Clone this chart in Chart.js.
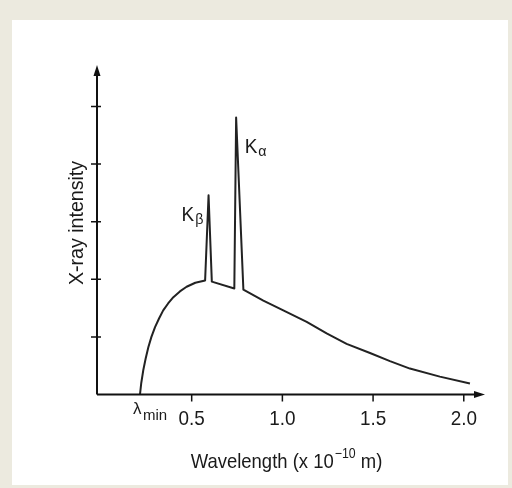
<!DOCTYPE html>
<html>
<head>
<meta charset="utf-8">
<script src="https://cdn.jsdelivr.net/npm/chart.js@4.4.1/dist/chart.umd.min.js"></script>
<style>
  html, body { margin: 0; padding: 0; background: #eceadf; }
  #box { position: absolute; left: 0; top: 0; width: 512px; height: 488px; }
</style>
</head>
<body>
<div id="box"><canvas id="SpectrumChart"></canvas></div>
<script>
// X-ray spectrum (wavelength in 10^-10 m, intensity in tick units)
const wavelength = [0.215, 0.222, 0.233, 0.246, 0.261, 0.278, 0.298, 0.320, 0.343, 0.370, 0.399, 0.435, 0.472, 0.520, 0.574,
                    0.593, 0.611, 0.735, 0.745, 0.785,
                    0.895, 1.005, 1.134, 1.244, 1.354, 1.483, 1.593, 1.703, 1.868, 2.034];
const intensity  = [0.00, 0.20, 0.42, 0.62, 0.82, 1.00, 1.17, 1.32, 1.46, 1.58, 1.69, 1.79, 1.87, 1.94, 1.98,
                    3.46, 1.96, 1.84, 4.81, 1.82,
                    1.63, 1.46, 1.26, 1.06, 0.88, 0.72, 0.58, 0.45, 0.31, 0.19];
const xTickValues = [0.5, 1.0, 1.5, 2.0];
const xTickLabels = ['0.5', '1.0', '1.5', '2.0'];
const yTickValues = [1, 2, 3, 4, 5];
const lambdaMin = 0.215;
const peakLabels = [
    { x: 0.593, y: 3.46, main: 'K', sub: 'β', side: 'left' },
    { x: 0.745, y: 4.81, main: 'K', sub: 'α', side: 'right' }
];

const FONT = '"Liberation Sans", Arial, sans-serif';

// narrow text: draw with a horizontal squeeze, returns the drawn width
function narrowText(ctx, text, x, y, size, squeeze, align) {
    ctx.font = size + 'px ' + FONT;
    const w = ctx.measureText(text).width * squeeze;
    let left = x;
    if (align === 'center') left = x - w / 2;
    else if (align === 'right') left = x - w;
    ctx.save();
    ctx.translate(left, y);
    ctx.scale(squeeze, 1);
    ctx.textAlign = 'left';
    ctx.fillText(text, 0, 0);
    ctx.restore();
    return w;
}
function narrowWidth(ctx, text, size, squeeze) {
    ctx.font = size + 'px ' + FONT;
    return ctx.measureText(text).width * squeeze;
}

// paints the beige frame and the white panel
const framePlugin = {
    id: 'frame',
    beforeDraw(chart) {
        const ctx = chart.ctx;
        ctx.save();
        ctx.fillStyle = '#eceadf';
        ctx.fillRect(0, 0, chart.width, chart.height);
        ctx.fillStyle = '#ffffff';
        ctx.fillRect(12, 20, 496, 465);
        ctx.restore();
    }
};

// draws the axes with arrows, ticks and all text
const axesPlugin = {
    id: 'arrowAxes',
    afterDatasetsDraw(chart) {
        const ctx = chart.ctx;
        const xs = chart.scales.x, ys = chart.scales.y;
        const area = chart.chartArea;
        const x0 = area.left, y0 = area.bottom;
        ctx.save();
        ctx.strokeStyle = '#111';
        ctx.fillStyle = '#111';
        ctx.lineWidth = 2;

        // axis lines
        ctx.beginPath();
        ctx.moveTo(x0, y0); ctx.lineTo(x0, area.top + 6);
        ctx.moveTo(x0, y0); ctx.lineTo(area.right - 6, y0);
        ctx.stroke();
        // arrow heads
        ctx.beginPath();
        ctx.moveTo(x0, area.top); ctx.lineTo(x0 - 3.5, area.top + 11); ctx.lineTo(x0 + 3.5, area.top + 11);
        ctx.closePath(); ctx.fill();
        ctx.beginPath();
        ctx.moveTo(area.right, y0); ctx.lineTo(area.right - 11, y0 - 3.5); ctx.lineTo(area.right - 11, y0 + 3.5);
        ctx.closePath(); ctx.fill();

        // y ticks cross the axis
        ctx.lineWidth = 1.5;
        ctx.beginPath();
        yTickValues.forEach(v => {
            const py = ys.getPixelForValue(v);
            ctx.moveTo(x0 - 6, py); ctx.lineTo(x0 + 4, py);
        });
        // x ticks hang below
        xTickValues.forEach(v => {
            const px = xs.getPixelForValue(v);
            ctx.moveTo(px, y0); ctx.lineTo(px, y0 + 7);
        });
        ctx.stroke();

        ctx.fillStyle = '#1a1a1a';
        ctx.textBaseline = 'alphabetic';

        // x tick labels
        xTickValues.forEach((v, i) => {
            narrowText(ctx, xTickLabels[i], xs.getPixelForValue(v), y0 + 30.5, 21, 0.9, 'center');
        });

        // lambda min
        const lx = xs.getPixelForValue(lambdaMin) - 7;
        narrowText(ctx, 'λ', lx, y0 + 19, 17, 1, 'left');
        narrowText(ctx, 'min', lx + 10, y0 + 25, 15, 1, 'left');

        // peak labels
        peakLabels.forEach(p => {
            const px = xs.getPixelForValue(p.x), py = ys.getPixelForValue(p.y);
            const kw = narrowWidth(ctx, p.main, 20, 0.95);
            let start, base;
            if (p.side === 'left') { start = px - 27; base = py + 26; }
            else { start = px + 8.5; base = py + 36; }
            narrowText(ctx, p.main, start, base, 20, 0.95, 'left');
            narrowText(ctx, p.sub, start + kw + 1, base + 3, 15, 0.95, 'left');
        });

        // x axis title with superscript
        const t1 = 'Wavelength (x 10', t2 = '\u221210', t3 = ' m)';
        const sq = 0.88;
        const w1 = narrowWidth(ctx, t1, 21, sq), w2 = narrowWidth(ctx, t2, 14, sq), w3 = narrowWidth(ctx, t3, 21, sq);
        const tx = 286 - (w1 + w2 + w3) / 2;
        const ty = 468;
        narrowText(ctx, t1, tx, ty, 21, sq, 'left');
        narrowText(ctx, t2, tx + w1 + 1, ty - 10, 14, sq, 'left');
        narrowText(ctx, t3, tx + w1 + w2 + 1, ty, 21, sq, 'left');

        // y axis title
        ctx.save();
        ctx.translate(83, 223);
        ctx.rotate(-Math.PI / 2);
        narrowText(ctx, 'X-ray intensity', 0, 0, 20, 0.98, 'center');
        ctx.restore();

        ctx.restore();
    }
};

const spectrumConfig = {
    type: 'scatter',
    data: {
        datasets: [{
            label: 'X-ray intensity',
            data: wavelength.map((w, i) => ({ x: w, y: intensity[i] })),
            showLine: true,
            borderColor: '#222',
            borderWidth: 2,
            pointRadius: 0,
            tension: 0,
            borderJoinStyle: 'round',
            clip: false
        }]
    },
    options: {
        responsive: true,
        maintainAspectRatio: false,
        animation: false,
        layout: { padding: { left: 97, right: 27, top: 65, bottom: 93.5 } },
        plugins: { legend: { display: false }, tooltip: { enabled: false } },
        scales: {
            x: { type: 'linear', min: -0.022, max: 2.117, display: false },
            y: { type: 'linear', min: 0, max: 5.72, display: false }
        }
    },
    plugins: [framePlugin, axesPlugin]
};

new Chart(document.getElementById('SpectrumChart').getContext('2d'), spectrumConfig);
</script>
</body>
</html>
